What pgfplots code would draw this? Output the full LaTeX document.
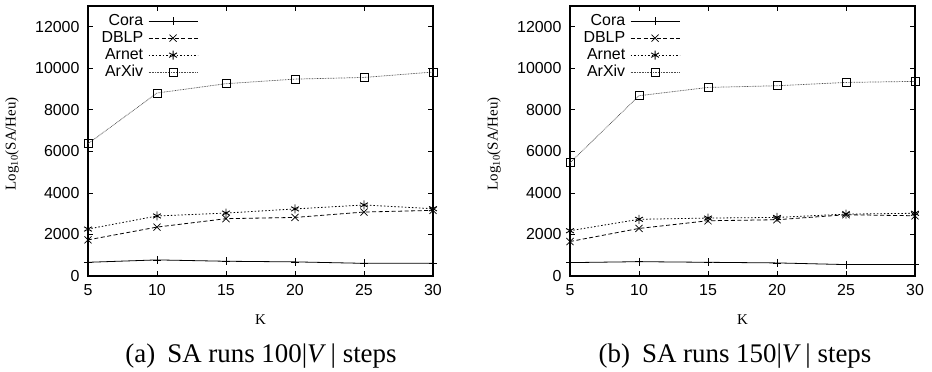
\documentclass[border=0pt]{standalone}
\usepackage{fontspec}
\setmainfont{Liberation Serif}
\setsansfont{Liberation Sans}
\usepackage{pgfplots}
\pgfplotsset{compat=1.18}
\pgfplotsset{
  mystyle/.style={
    scale only axis, width=345bp, height=270bp,
    xmin=5, xmax=30, ymin=0, ymax=13000,
    xtick={5,10,...,30}, ytick={0,2000,...,12000},
    /pgf/number format/assume math mode=true,
    /pgf/number format/1000 sep={},
    scaled y ticks=false,
    tick label style={font=\sffamily\fontsize{16}{16}\selectfont, black},
    yticklabel style={xshift=-5bp},
    xticklabel style={yshift=-5bp},
    axis line style={line width=1.1bp},
    major tick style={line width=0.8bp, black},
    major tick length=5bp,
    xlabel={K},
    ylabel={Log\textsubscript{10}(SA/Heu)},
    label style={font=\fontsize{15}{15}\selectfont},
    xlabel style={at={(axis description cs:0.5,-0.16)}, anchor=center},
    ylabel style={at={(axis description cs:-0.22,0.49)}, anchor=center},
    legend style={at={(axis description cs:0.03,0.978)}, anchor=north west,
      draw=none, fill=none, font=\sffamily\fontsize{16}{16}\selectfont,
      row sep=3bp, column sep=5bp,
      nodes={inner sep=0bp, text height=11bp, text depth=3bp}},
    legend cell align=right,
    legend plot pos=right,
    legend image code/.code={
      \draw[mark repeat=2,mark phase=2,##1] plot coordinates {(0bp,0bp) (24.5bp,0bp) (49bp,0bp)};
    },
  },
  cora/.style={black, line width=0.8bp, solid, mark=+, mark size=4bp, mark options={solid, line width=0.7bp}},
  dblp/.style={black, line width=0.8bp, dash pattern=on 4bp off 2.5bp, mark=x, mark size=5bp, mark options={solid, line width=0.7bp}},
  arnet/.style={black, line width=0.8bp, dash pattern=on 1.5bp off 2bp, mark=asterisk, mark size=4.5bp, mark options={solid, line width=0.9bp}},
  arxiv/.style={black!70, line width=0.7bp, dash pattern=on 0.8bp off 0.8bp, mark=square, mark size=4bp, mark options={solid, black, line width=0.8bp}},
}
\begin{document}
\begin{tikzpicture}
\path[use as bounding box] (0,0) rectangle (932bp,-372bp);
\begin{axis}[mystyle, at={(88bp,-276bp)}, anchor=south west]
\addplot[cora] coordinates {(5,660) (10,775) (15,710) (20,680) (25,610) (30,610)};
\addlegendentry{Cora}
\addplot[dblp] coordinates {(5,1740) (10,2355) (15,2760) (20,2820) (25,3080) (30,3160)};
\addlegendentry{DBLP}
\addplot[arnet] coordinates {(5,2260) (10,2890) (15,3030) (20,3230) (25,3420) (30,3240)};
\addlegendentry{Arnet}
\addplot[arxiv] coordinates {(5,6370) (10,8810) (15,9260) (20,9480) (25,9560) (30,9820)};
\addlegendentry{ArXiv}
\end{axis}
\begin{axis}[mystyle, at={(570bp,-276bp)}, anchor=south west]
\addplot[cora] coordinates {(5,645) (10,690) (15,660) (20,630) (25,550) (30,550)};
\addlegendentry{Cora}
\addplot[dblp] coordinates {(5,1660) (10,2290) (15,2660) (20,2710) (25,2950) (30,2900)};
\addlegendentry{DBLP}
\addplot[arnet] coordinates {(5,2180) (10,2730) (15,2790) (20,2820) (25,2980) (30,3020)};
\addlegendentry{Arnet}
\addplot[arxiv] coordinates {(5,5450) (10,8680) (15,9080) (20,9160) (25,9320) (30,9370)};
\addlegendentry{ArXiv}
\end{axis}
\node[font=\fontsize{27}{27}\selectfont] at (261bp,-356bp) {(a)\hspace{0.45em}SA runs 100|\textit{V}\,| steps};
\node[font=\fontsize{27}{27}\selectfont] at (735bp,-356bp) {(b)\hspace{0.45em}SA runs 150|\textit{V}\,| steps};
\end{tikzpicture}
\end{document}
